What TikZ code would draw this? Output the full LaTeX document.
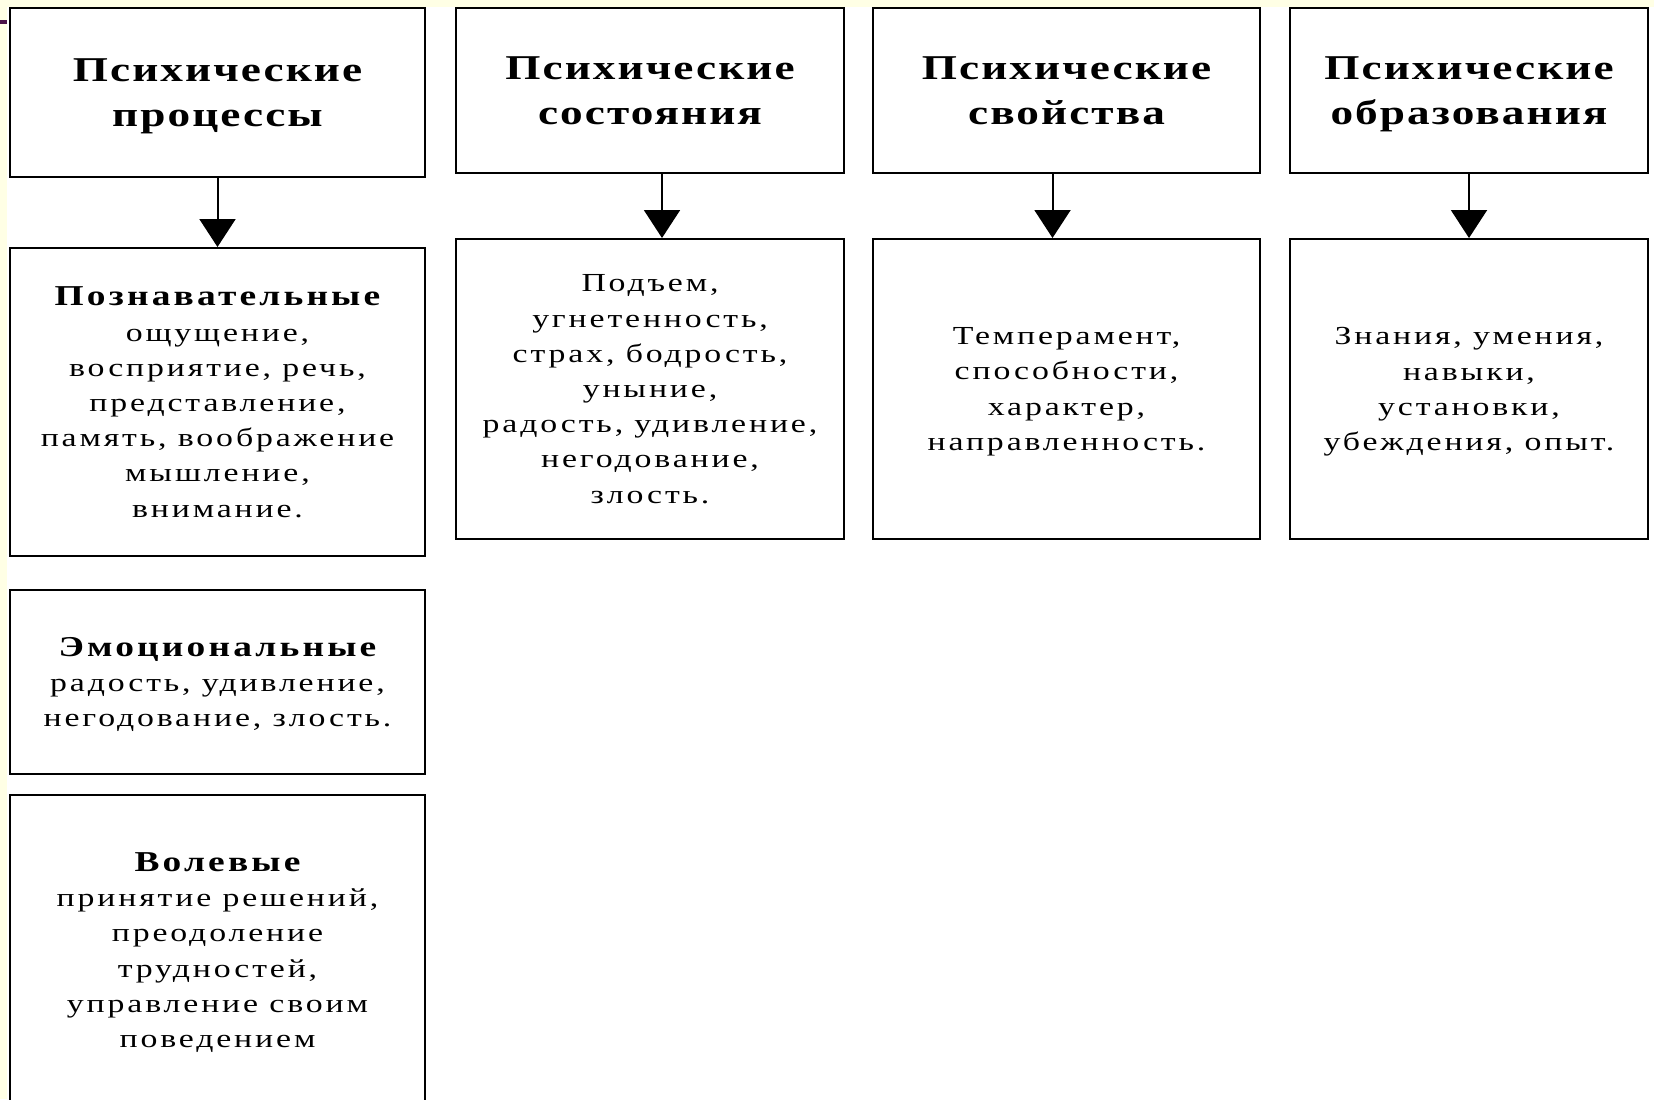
\documentclass[tikz,border=0pt]{standalone}
\usepackage{fontspec}
\setmainfont{Liberation Serif}[FakeStretch=1.3,LetterSpace=11]
\newfontfamily\headfont{Liberation Serif}[FakeStretch=1.3,LetterSpace=6]
\usetikzlibrary{arrows.meta}
\definecolor{slidecream}{HTML}{FFFFE5}
\definecolor{slideplum}{HTML}{4B1248}
\begin{document}
\begin{tikzpicture}[x=.5pt,y=-.5pt,>={Triangle[width=18pt,length=14pt]},
  box/.style={draw,line width=1pt,inner sep=0pt,align=center,text depth=0pt,font=\fontsize{13}{17.6}\selectfont},
  head/.style={box,font=\headfont\fontsize{17.4}{22.5}\selectfont\bfseries},
  link/.style={->,line width=1pt}]
\newcommand\kind[1]{{\fontsize{14.4}{17.6}\selectfont\bfseries #1}}
\useasboundingbox (0,0) rectangle (1654,1099);
\fill[slidecream] (0,0) rectangle (1654,1099);
\fill[white] (7,7) rectangle (1654,1099);
\fill[slideplum] (0,20) rectangle (7,24);
% top row
\node[head,minimum width=207.5pt,minimum height=84.5pt] (proc) at (217.5,92.5) {Психические\\процессы};
\node[head,minimum width=194pt,minimum height=82.5pt] (sost) at (650,90.5) {Психические\\состояния};
\node[head,minimum width=193.5pt,minimum height=82.5pt] (svoi) at (1066.5,90.5) {Психические\\свойства};
\node[head,minimum width=179pt,minimum height=82.5pt] (obr) at (1469,90.5) {Психические\\образования};
% lists
\node[box,minimum width=207.5pt,minimum height=154pt] (pozn) at (217.5,402)
  {\kind{Познавательные}\\ощущение,\\восприятие, речь,\\представление,\\память, воображение\\мышление,\\внимание.};
\node[box,minimum width=194pt,minimum height=150pt] (sostl) at (650,389)
  {Подъем,\\угнетенность,\\страх, бодрость,\\уныние,\\радость, удивление,\\негодование,\\злость.};
\node[box,minimum width=193.5pt,minimum height=150pt] (svoil) at (1066.5,389)
  {Темперамент,\\способности,\\характер,\\направленность.};
\node[box,minimum width=179pt,minimum height=150pt] (obrl) at (1469,389)
  {Знания, умения,\\навыки,\\установки,\\убеждения, опыт.};
\node[box,minimum width=207.5pt,minimum height=92pt] (emo) at (217.5,682)
  {\kind{Эмоциональные}\\радость, удивление,\\негодование, злость.};
\node[box,minimum width=207.5pt,minimum height=155pt] (vol) at (217.5,950)
  {\kind{Волевые}\\принятие решений,\\преодоление\\трудностей,\\управление своим\\поведением};
% arrows
\draw[link] (proc) -- (pozn);
\draw[link] ([xshift=6pt]sost.south) -- ([xshift=6pt]sostl.north);
\draw[link] ([xshift=-7pt]svoi.south) -- ([xshift=-7pt]svoil.north);
\draw[link] (obr) -- (obrl);
\end{tikzpicture}
\end{document}
